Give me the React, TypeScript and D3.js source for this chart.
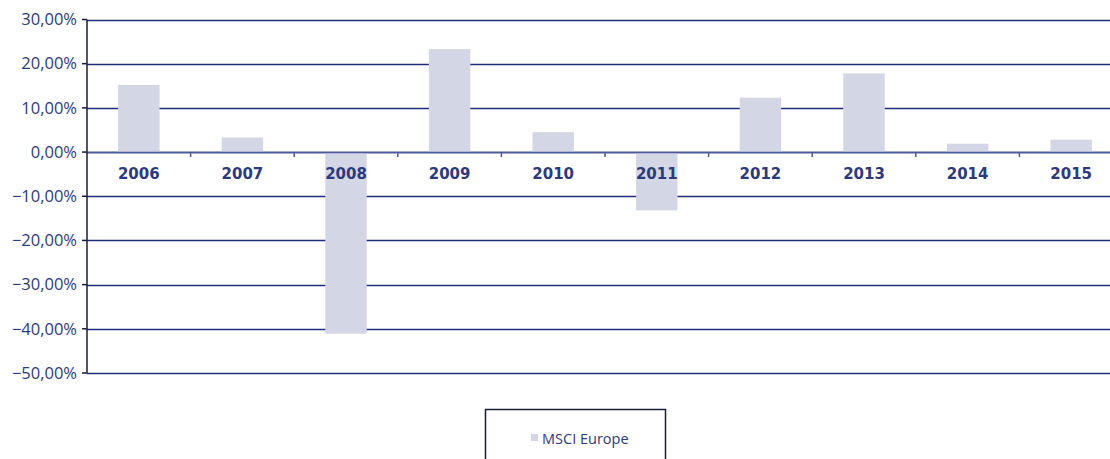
import React from "react";
import * as d3 from "d3";

const years = ["2006", "2007", "2008", "2009", "2010", "2011", "2012", "2013", "2014", "2015"];
const msciEurope = [15.2, 3.3, -41.1, 23.3, 4.5, -13.2, 12.3, 17.8, 1.9, 2.8];
const yTicks = [30, 20, 10, 0, -10, -20, -30, -40, -50];
const seriesName = "MSCI Europe";

const W = 1110;
const H = 459;
const left = 87;
const plotRight = 1123;
const top = 19.5;
const bottom = 373;

const navy = "#1f2c78";
const textColor = "#2b3a7c";
const barColor = "#d3d6e5";

export default function App() {
  const x = d3.scaleBand<string>().domain(years).range([left, plotRight]).paddingInner(0.6).paddingOuter(0.3);
  const xb = d3.scaleBand<string>().domain(years).range([left, plotRight]);
  const y = d3.scaleLinear().domain([-50, 30]).range([bottom, top]);
  const fmt = (v: number) => (v < 0 ? "\u2212" : "") + Math.abs(v).toFixed(2).replace(".", ",") + "%";

  return (
    <svg width={W} height={H} style={{ position: "absolute", left: 0, top: 0, background: "#fff" }}>
      {yTicks.map((t) => (
        <line key={"g" + t} x1={left} x2={W} y1={Math.round(y(t)) + 0.5} y2={Math.round(y(t)) + 0.5} stroke={navy} strokeWidth={1.5} />
      ))}
      {years.map((yr, i) => {
        const v = msciEurope[i];
        const y0 = y(0);
        const y1 = y(v);
        return (
          <rect key={yr} x={x(yr)} width={x.bandwidth()} y={Math.min(y0, y1)} height={Math.abs(y1 - y0)} fill={barColor} />
        );
      })}
      <line x1={left} x2={W} y1={Math.round(y(0)) + 0.5} y2={Math.round(y(0)) + 0.5} stroke="#4a5a9c" strokeWidth={1.5} />
      {years.slice(1).map((yr) => (
        <line key={"t" + yr} x1={xb(yr)} x2={xb(yr)} y1={y(0)} y2={y(0) + 5} stroke="#4a5a9c" strokeWidth={1.5} />
      ))}
      <line x1={left} x2={left} y1={top} y2={bottom} stroke="#1a1d3a" strokeWidth={1.5} />
      {yTicks.map((t) => (
        <g key={"yt" + t}>
          <line x1={left - 5} x2={left} y1={y(t)} y2={y(t)} stroke="#1a1d3a" strokeWidth={1.5} />
          <text x={77} y={y(t)} dy="0.35em" textAnchor="end" fill={textColor} fontFamily="'Open Sans', sans-serif" fontSize={16.5}>
            {fmt(t)}
          </text>
        </g>
      ))}
      {years.map((yr) => (
        <text key={"xl" + yr} x={(xb(yr) as number) + xb.bandwidth() / 2} y={y(0) + 22} dy="0.35em" textAnchor="middle" fill={textColor} fontFamily="'DejaVu Sans', sans-serif" fontWeight="bold" fontSize={15}>
          {yr}
        </text>
      ))}
      <rect x={485.5} y={409.5} width={180} height={70} fill="none" stroke="#1a1d3a" strokeWidth={1.5} />
      <rect x={531} y={434} width={7} height={7} fill={barColor} />
      <text x={542} y={443.5} fill={textColor} fontFamily="'Open Sans', sans-serif" fontSize={14.5}>
        {seriesName}
      </text>
    </svg>
  );
}
